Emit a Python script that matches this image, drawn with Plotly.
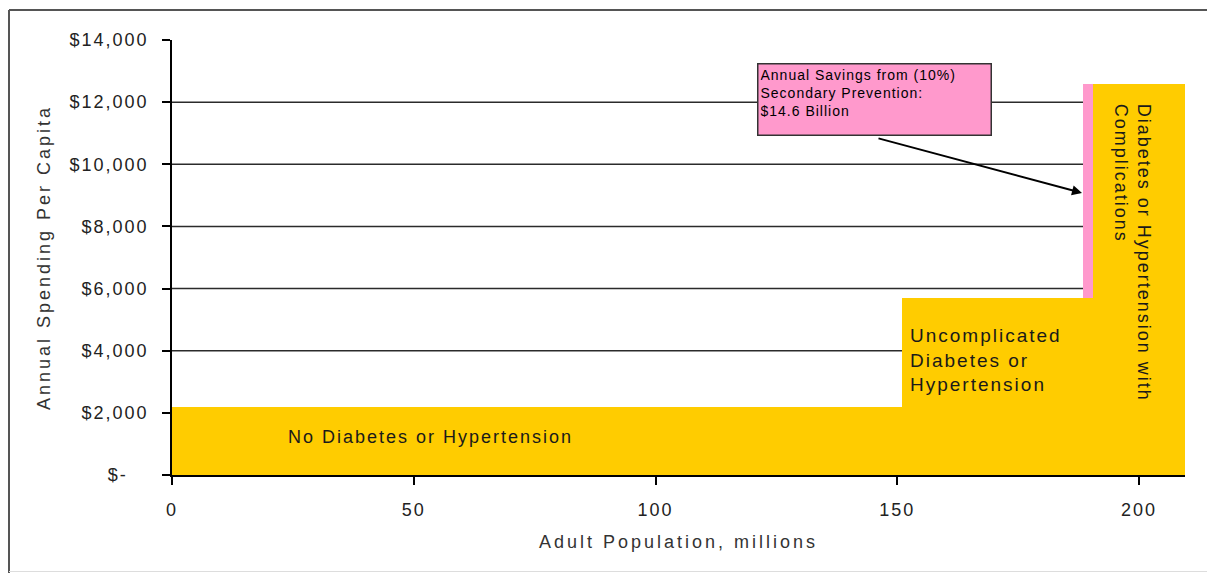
import plotly.graph_objects as go

# ---- data ----
SEGMENTS = ["No Diabetes or Hypertension",
            "Uncomplicated Diabetes or Hypertension",
            "Diabetes or Hypertension with Complications"]
POP_MILLIONS = [151.0, 37.4, 21.1]          # width of each block
SPENDING_PER_CAPITA = [2200, 5700, 12600]    # height of each block
SAVINGS_SHARE = 0.10                         # share of complicated group prevented
Y_TICK_VALUES = [0, 2000, 4000, 6000, 8000, 10000, 12000, 14000]
Y_TICK_TEXT = ["$-&nbsp;&nbsp;&nbsp;", "$2,000", "$4,000", "$6,000", "$8,000",
               "$10,000", "$12,000", "$14,000"]
X_TICK_VALUES = [0, 50, 100, 150, 200]
GRID_VALUES = [2000, 4000, 6000, 8000, 10000, 12000]

YELLOW = "#FFCC00"
PINK = "#FF99CC"
FONT = "Liberation Sans, Arial, sans-serif"


def spaced(txt, ls=2):
    return f"<span style='letter-spacing:{ls}px'>{txt}</span>"


# block geometry from the data
lefts, acc = [], 0.0
for w in POP_MILLIONS:
    lefts.append(acc)
    acc += w
centers = [l + w / 2 for l, w in zip(lefts, POP_MILLIONS)]
x_max = acc

pink_width = POP_MILLIONS[2] * SAVINGS_SHARE
pink_left = lefts[2]
pink_base = SPENDING_PER_CAPITA[1]
pink_height = SPENDING_PER_CAPITA[2] - SPENDING_PER_CAPITA[1]
savings_billion = POP_MILLIONS[2] * SAVINGS_SHARE * pink_height / 1000.0

fig = go.Figure()
fig.add_trace(go.Bar(
    x=centers, y=SPENDING_PER_CAPITA, width=POP_MILLIONS,
    marker=dict(color=YELLOW, line=dict(width=0)),
    hovertext=SEGMENTS, showlegend=False,
))
fig.add_trace(go.Bar(
    x=[pink_left + pink_width / 2], y=[pink_height], base=[pink_base],
    width=[pink_width],
    marker=dict(color=PINK, line=dict(width=0)),
    showlegend=False,
))

# gridlines (no line at the top tick)
shapes = []
for g in GRID_VALUES:
    shapes.append(dict(type="line", xref="paper", yref="y", x0=0, x1=1, y0=g, y1=g,
                       line=dict(color="#2b2b2b", width=1.5), layer="below"))

# outer frame of the picture
L, R, T, B = 172, 1185, 40, 475
def px_x(p):
    return (p - L) / (R - L)
def px_y(p):
    return (B - p) / (B - T)
shapes.append(dict(type="line", xref="paper", yref="paper",
                   x0=px_x(9), x1=px_x(9), y0=px_y(10), y1=px_y(573),
                   line=dict(color="#555555", width=2)))
shapes.append(dict(type="line", xref="paper", yref="paper",
                   x0=px_x(9), x1=px_x(1210), y0=px_y(10), y1=px_y(10),
                   line=dict(color="#555555", width=2)))
shapes.append(dict(type="line", xref="paper", yref="paper",
                   x0=px_x(9), x1=px_x(1210), y0=px_y(571.5), y1=px_y(571.5),
                   line=dict(color="#dddddd", width=1)))

label_font = dict(family=FONT, size=18, color="#1a1a1a")
annotations = [
    dict(x=53.4, y=1230, xref="x", yref="y", showarrow=False,
         text=spaced(SEGMENTS[0]), font=label_font,
         xanchor="center", yanchor="middle"),
    dict(x=152.2, y=3700, xref="x", yref="y", showarrow=False,
         text=spaced("Uncomplicated<br>Diabetes or<br>Hypertension"),
         font=dict(family=FONT, size=19, color="#1a1a1a"),
         align="left", xanchor="left", yanchor="middle"),
    dict(x=198.6, y=7145, xref="x", yref="y", showarrow=False,
         text=spaced("Diabetes or Hypertension with<br>Complications"), font=label_font,
         align="left", textangle=90, xanchor="center", yanchor="middle"),
    # pink call-out box
    dict(x=145.2, y=12070, xref="x", yref="y", showarrow=False,
         text=spaced(f"Annual Savings from ({SAVINGS_SHARE:.0%})<br>Secondary Prevention:<br>"
                     f"${savings_billion:.1f} Billion", 1),
         font=dict(family=FONT, size=14, color="#000000"),
         align="left", valign="top", width=228, height=66,
         bgcolor=PINK, bordercolor="#333333", borderwidth=1.5, borderpad=2,
         xanchor="center", yanchor="middle"),
    # arrow
    dict(x=188.2, y=9076, ax=145.8, ay=10846, xref="x", yref="y",
         axref="x", ayref="y", text="", showarrow=True,
         arrowhead=2, arrowsize=1, arrowwidth=2, arrowcolor="#000000"),
]

fig.update_layout(
    width=1207, height=573,
    margin=dict(l=L, r=1207 - R, t=T, b=573 - B),
    paper_bgcolor="white", plot_bgcolor="white",
    barmode="overlay", bargap=0,
    shapes=shapes, annotations=annotations,
    font=dict(family=FONT, size=18, color="#222222"),
    xaxis=dict(
        range=[0, x_max], tickvals=X_TICK_VALUES,
        ticktext=[spaced(str(v)) for v in X_TICK_VALUES],
        showgrid=False, zeroline=False,
        showline=True, linecolor="#000000", linewidth=1.5,
        ticks="outside", ticklen=8, tickwidth=1.5, tickcolor="#000000",
        ticklabelstandoff=10,
        tickfont=dict(family=FONT, size=18, color="#222222"),
        title=dict(text=spaced("Adult Population, millions", 3),
                   font=dict(family=FONT, size=18, color="#333333"), standoff=16),
    ),
    yaxis=dict(
        range=[0, 14000], tickvals=Y_TICK_VALUES,
        ticktext=[spaced(t) for t in Y_TICK_TEXT],
        showgrid=False, zeroline=False,
        showline=True, linecolor="#000000", linewidth=1.5,
        ticks="outside", ticklen=8, tickwidth=1.5, tickcolor="#000000",
        ticklabelstandoff=10,
        tickfont=dict(family=FONT, size=18, color="#222222"),
        title=dict(text=spaced("Annual Spending Per Capita", 3),
                   font=dict(family=FONT, size=18, color="#333333"), standoff=14),
    ),
)

fig.write_html("out.html")
